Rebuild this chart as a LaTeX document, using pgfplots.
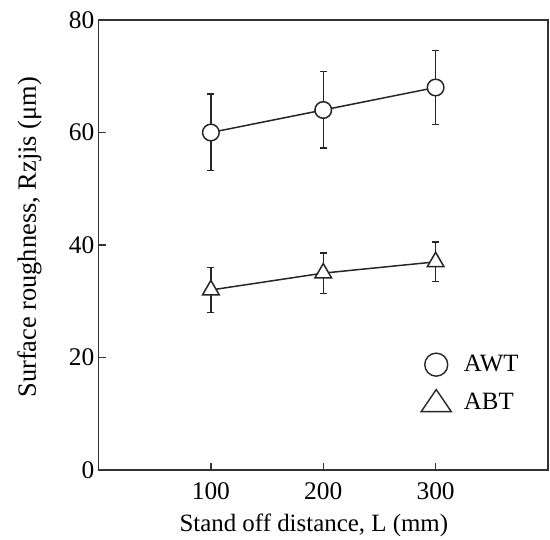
\documentclass[border=0pt]{standalone}
\usepackage{fontspec}
\setmainfont{Liberation Serif}
\usepackage{pgfplots}
\pgfplotsset{compat=1.18}

% Surface roughness vs stand off distance (mean, +/- error)
\pgfplotstableread{
x    y    e
100  60.0 6.8
200  64.0 6.8
300  68.0 6.6
}\awt
\pgfplotstableread{
x    y    e
100  32.0 4.0
200  35.0 3.6
300  37.0 3.5
}\abt

\begin{document}
\fontsize{25}{29}\selectfont
\begin{tikzpicture}
\useasboundingbox (0,0) rectangle (550bp,540bp);
\begin{axis}[
    at={(98.5bp,70bp)}, anchor=south west,
    width=449.5bp, height=450bp, scale only axis,
    xmin=0, xmax=400, ymin=0, ymax=80,
    xtick={100,200,300}, ytick={0,20,40,60,80},
    tick align=inside, xtick pos=lower, ytick pos=left,
    major tick length=7bp,
    axis line style={line width=1.6bp, draw=black!80},
    every tick/.style={line width=1.4bp, draw=black!80},
    /pgf/number format/assume math mode=true,
    ticklabel style={font=\fontsize{25.5}{29}\selectfont, inner sep=0pt},
    xticklabel style={anchor=north, yshift=-12.5bp},
    yticklabel style={anchor=east, xshift=-4bp},
    xlabel={Stand off distance, L (mm)},
    ylabel={Surface roughness, Rzjis (μm)},
    xlabel style={font=\fontsize{25}{29}\selectfont,
        at={(axis description cs:0.479,-0.122)}, anchor=center},
    ylabel style={font=\fontsize{26.5}{30}\selectfont,
        at={(axis description cs:-0.1535,0.517)}, anchor=center},
    legend style={draw=none, fill=none, inner sep=0pt,
        at={(0.716,0.191)}, anchor=west,
        column sep=10bp, row sep=12bp,
        font=\fontsize{25}{29}\selectfont},
    legend cell align=left,
]
\addplot[forget plot, line width=1.5bp, draw=black!85,
    mark=*, mark size=8.3bp,
    mark options={fill=white, draw=black!85, line width=1.5bp},
    error bars/.cd, y dir=both, y explicit,
    error bar style={line width=1.5bp, draw=black!85},
    error mark options={rotate=90, mark size=3.5bp, line width=1.5bp, draw=black!85}]
    table[x=x, y=y, y error=e] {\awt};
\addplot[forget plot, line width=1.5bp, draw=black!85,
    mark=triangle*, mark size=9.6bp,
    mark options={fill=white, draw=black!85, line width=1.5bp},
    error bars/.cd, y dir=both, y explicit,
    error bar style={line width=1.5bp, draw=black!85},
    error mark options={rotate=90, mark size=3.5bp, line width=1.5bp, draw=black!85}]
    table[x=x, y=y, y error=e] {\abt};

\addlegendimage{legend image code/.code={
    \draw[line width=1.4bp, draw=black!85, fill=white] (0,0) circle (11.5bp);}}
\addlegendentry{AWT}
\addlegendimage{legend image code/.code={
    \draw[line width=1.4bp, draw=black!85, fill=white, line join=miter]
        (0,14bp) -- (-15bp,-8bp) -- (15bp,-8bp) -- cycle;}}
\addlegendentry{ABT}
\end{axis}
\end{tikzpicture}
\end{document}
